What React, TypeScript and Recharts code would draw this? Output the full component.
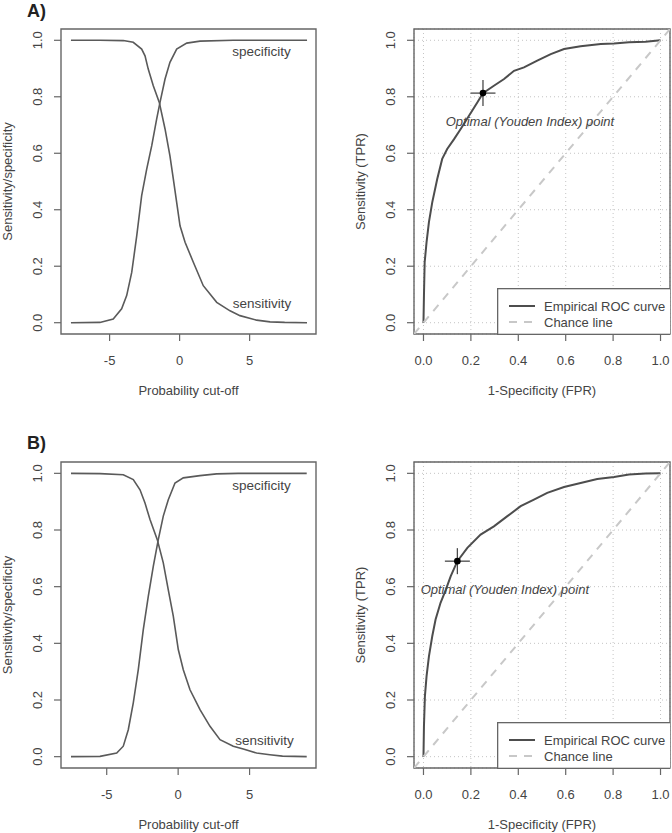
import React from 'react';
import {
  ComposedChart,
  Line,
  XAxis,
  YAxis,
  CartesianGrid,
  ReferenceArea,
  ReferenceDot,
  Scatter,
  Legend,
} from 'recharts';

const FONT = '"Liberation Sans", Arial, Helvetica, sans-serif';
const TEXT = '#444444';
const AXIS = '#666666';
const CURVE = '#5a5a5a';

// ---------- Panel A (left): sensitivity / specificity vs probability cut-off ----------
const sensA = [
  { x: -7.76, y: 1 }, { x: -5.69, y: 1 }, { x: -4.02, y: 0.999 }, { x: -3.31, y: 0.993 },
  { x: -2.71, y: 0.969 }, { x: -2.47, y: 0.945 }, { x: -2.24, y: 0.898 }, { x: -1.88, y: 0.839 },
  { x: -1.45, y: 0.78 }, { x: -1.04, y: 0.686 }, { x: -0.69, y: 0.591 }, { x: -0.45, y: 0.509 },
  { x: -0.21, y: 0.426 }, { x: 0.03, y: 0.343 }, { x: 0.39, y: 0.285 }, { x: 0.98, y: 0.214 },
  { x: 1.69, y: 0.131 }, { x: 2.65, y: 0.072 }, { x: 3.6, y: 0.042 }, { x: 4.31, y: 0.025 },
  { x: 5.5, y: 0.009 }, { x: 6.46, y: 0.003 }, { x: 7.5, y: 0.001 }, { x: 9.1, y: 0 },
];
const specA = [
  { x: -7.76, y: 0 }, { x: -5.69, y: 0.001 }, { x: -4.74, y: 0.013 }, { x: -4.14, y: 0.049 },
  { x: -3.78, y: 0.096 }, { x: -3.42, y: 0.178 }, { x: -3.06, y: 0.308 }, { x: -2.71, y: 0.45 },
  { x: -2.35, y: 0.544 }, { x: -1.99, y: 0.627 }, { x: -1.64, y: 0.721 }, { x: -1.4, y: 0.78 },
  { x: -1.04, y: 0.863 }, { x: -0.69, y: 0.922 }, { x: -0.21, y: 0.969 }, { x: 0.51, y: 0.99 },
  { x: 1.46, y: 0.997 }, { x: 3.84, y: 1 }, { x: 9.1, y: 1 },
];

// ---------- Panel B (left) ----------
const sensB = [
  { x: -7.5, y: 1 }, { x: -5.47, y: 0.999 }, { x: -3.84, y: 0.995 }, { x: -3.14, y: 0.978 },
  { x: -2.67, y: 0.942 }, { x: -2.32, y: 0.895 }, { x: -1.97, y: 0.837 }, { x: -1.46, y: 0.766 },
  { x: -1.04, y: 0.684 }, { x: -0.69, y: 0.589 }, { x: -0.34, y: 0.496 }, { x: 0.01, y: 0.378 },
  { x: 0.36, y: 0.307 }, { x: 0.83, y: 0.236 }, { x: 1.53, y: 0.166 }, { x: 2.23, y: 0.107 },
  { x: 2.93, y: 0.06 }, { x: 3.86, y: 0.037 }, { x: 4.56, y: 0.027 }, { x: 5.49, y: 0.013 },
  { x: 6.42, y: 0.007 }, { x: 7.3, y: 0.002 }, { x: 9.0, y: 0 },
];
const specB = [
  { x: -7.5, y: 0 }, { x: -5.47, y: 0.001 }, { x: -4.3, y: 0.013 }, { x: -3.84, y: 0.037 },
  { x: -3.49, y: 0.095 }, { x: -3.14, y: 0.19 }, { x: -2.79, y: 0.307 }, { x: -2.44, y: 0.448 },
  { x: -2.09, y: 0.566 }, { x: -1.74, y: 0.672 }, { x: -1.39, y: 0.766 }, { x: -1.04, y: 0.849 },
  { x: -0.69, y: 0.907 }, { x: -0.22, y: 0.966 }, { x: 0.36, y: 0.984 }, { x: 1.53, y: 0.992 },
  { x: 2.69, y: 0.998 }, { x: 4.2, y: 1 }, { x: 9.0, y: 1 },
];

// ---------- ROC curves ----------
const rocA = [
  { x: 0, y: 0 }, { x: 0.002, y: 0.096 }, { x: 0.005, y: 0.214 }, { x: 0.013, y: 0.285 },
  { x: 0.023, y: 0.356 }, { x: 0.037, y: 0.426 }, { x: 0.058, y: 0.509 }, { x: 0.079, y: 0.58 },
  { x: 0.1, y: 0.615 }, { x: 0.129, y: 0.65 }, { x: 0.157, y: 0.686 }, { x: 0.192, y: 0.733 },
  { x: 0.227, y: 0.78 }, { x: 0.251, y: 0.813 }, { x: 0.297, y: 0.839 }, { x: 0.34, y: 0.863 },
  { x: 0.382, y: 0.892 }, { x: 0.424, y: 0.904 }, { x: 0.48, y: 0.928 }, { x: 0.537, y: 0.951 },
  { x: 0.593, y: 0.969 }, { x: 0.663, y: 0.979 }, { x: 0.748, y: 0.987 }, { x: 0.804, y: 0.989 },
  { x: 0.867, y: 0.993 }, { x: 0.937, y: 0.995 }, { x: 1, y: 1 },
];
const rocB = [
  { x: 0, y: 0 }, { x: 0.002, y: 0.107 }, { x: 0.006, y: 0.213 }, { x: 0.013, y: 0.284 },
  { x: 0.023, y: 0.354 }, { x: 0.037, y: 0.425 }, { x: 0.051, y: 0.484 }, { x: 0.072, y: 0.543 },
  { x: 0.094, y: 0.589 }, { x: 0.115, y: 0.637 }, { x: 0.143, y: 0.69 }, { x: 0.185, y: 0.737 },
  { x: 0.241, y: 0.784 }, { x: 0.297, y: 0.813 }, { x: 0.354, y: 0.849 }, { x: 0.41, y: 0.884 },
  { x: 0.466, y: 0.907 }, { x: 0.522, y: 0.931 }, { x: 0.593, y: 0.952 }, { x: 0.663, y: 0.966 },
  { x: 0.733, y: 0.98 }, { x: 0.804, y: 0.987 }, { x: 0.867, y: 0.996 }, { x: 0.937, y: 0.999 },
  { x: 1, y: 1 },
];
const chanceLine = [{ x: -0.04, y: -0.04 }, { x: 1.04, y: 1.04 }];
const optimalA = [{ x: 0.251, y: 0.813 }];
const optimalB = [{ x: 0.143, y: 0.69 }];
const optimalTextA = { x: 0.094, y: 0.712 };
const optimalTextB = { x: -0.012, y: 0.589 };
const legendOrder = ['Empirical ROC curve', 'Chance line'];

// ---------- Axes ----------
const cutoffTicks = [-5, 0, 5];
const probTicks = [0, 0.2, 0.4, 0.6, 0.8, 1.0];
const rateTicks = [0, 0.2, 0.4, 0.6, 0.8, 1.0];
const yDomain: [number, number] = [-0.04, 1.04];
const cutoffDomainA: [number, number] = [-8.47, 9.74];
const cutoffDomainB: [number, number] = [-8.2, 9.65];
const rocDomain: [number, number] = [-0.04, 1.04];

const curveLabelsA = [
  { x: 5.85, y: 0.959, text: 'specificity' },
  { x: 5.89, y: 0.07, text: 'sensitivity' },
];
const curveLabelsB = [
  { x: 5.83, y: 0.957, text: 'specificity' },
  { x: 6.04, y: 0.056, text: 'sensitivity' },
];

const TICK_SIZE = 7;
const TICK_MARGIN = 5;

const makeXTick = (fmt: (v: number) => string) => (props: any) => {
  const { x, y, payload } = props;
  return (
    <text x={x} y={y + 18.7} textAnchor="middle" fill={TEXT} fontSize={13} fontFamily={FONT}>
      {fmt(payload.value)}
    </text>
  );
};

const makeYTick = (fmt: (v: number) => string) => (props: any) => {
  const { x, y, payload } = props;
  const bx = x - 7.3;
  return (
    <text
      x={bx}
      y={y}
      transform={`rotate(-90 ${bx} ${y})`}
      textAnchor="middle"
      fill={TEXT}
      fontSize={13}
      fontFamily={FONT}
    >
      {fmt(payload.value)}
    </text>
  );
};

const intFmt = (v: number) => String(v);
const decFmt = (v: number) => v.toFixed(1);

const xTitle = (text: string) => (props: any) => {
  const vb = props.viewBox || {};
  return (
    <text
      x={vb.x + vb.width / 2}
      y={vb.y + 60.5}
      textAnchor="middle"
      fill={TEXT}
      fontSize={13}
      fontFamily={FONT}
    >
      {text}
    </text>
  );
};

const yTitle = (text: string) => (props: any) => {
  const vb = props.viewBox || {};
  const bx = vb.x + vb.width - 48.7;
  const cy = vb.y + vb.height / 2;
  return (
    <text
      x={bx}
      y={cy}
      transform={`rotate(-90 ${bx} ${cy})`}
      textAnchor="middle"
      fill={TEXT}
      fontSize={13}
      fontFamily={FONT}
    >
      {text}
    </text>
  );
};

const centerText = (text: string) => (props: any) => {
  const vb = props.viewBox || {};
  const cx = vb.x + (vb.width || 0) / 2;
  const cy = vb.y + (vb.height || 0) / 2;
  return (
    <text x={cx} y={cy + 4.6} textAnchor="middle" fill={TEXT} fontSize={13.5} fontFamily={FONT}>
      {text}
    </text>
  );
};

const startItalicText = (text: string) => (props: any) => {
  const vb = props.viewBox || {};
  const cx = vb.x + (vb.width || 0) / 2;
  const cy = vb.y + (vb.height || 0) / 2;
  return (
    <text
      x={cx}
      y={cy + 4.6}
      textAnchor="start"
      fill={TEXT}
      fontSize={13}
      fontStyle="italic"
      fontFamily={FONT}
    >
      {text}
    </text>
  );
};

const PlusMarker = (props: any) => {
  const { cx, cy } = props;
  return (
    <g>
      <line x1={cx - 12.5} x2={cx + 12.5} y1={cy} y2={cy} stroke="#4a4a4a" strokeWidth={1.3} />
      <line x1={cx} x2={cx} y1={cy - 13} y2={cy + 13} stroke="#4a4a4a" strokeWidth={1.3} />
      <circle cx={cx} cy={cy} r={3.3} fill="#000" />
    </g>
  );
};

const LegendBox = (props: any) => {
  const items = (props.payload || [])
    .filter((e: any) => e.type !== 'none' && legendOrder.indexOf(e.value) >= 0)
    .sort((a: any, b: any) => legendOrder.indexOf(a.value) - legendOrder.indexOf(b.value));
  return (
    <svg width={173} height={47} style={{ display: 'block' }}>
      <rect x={0.65} y={0.65} width={173} height={45.7} fill="#fff" stroke={AXIS} strokeWidth={1.3} />
      {items.map((e: any, i: number) => {
        const yy = 18 + i * 16;
        const dash = e.payload && e.payload.strokeDasharray;
        return (
          <g key={i}>
            <line
              x1={12}
              x2={38}
              y1={yy}
              y2={yy}
              stroke={e.color}
              strokeWidth={2}
              strokeDasharray={dash}
            />
            <text x={47} y={yy + 4.6} fill={TEXT} fontSize={13} fontFamily={FONT}>
              {e.value}
            </text>
          </g>
        );
      })}
    </svg>
  );
};

type CutoffProps = {
  top: number;
  height: number;
  plotTop: number;
  plotBottom: number;
  sens: { x: number; y: number }[];
  spec: { x: number; y: number }[];
  domain: [number, number];
  labels: { x: number; y: number; text: string }[];
};

const CutoffPanel = ({ top, height, plotTop, plotBottom, sens, spec, domain, labels }: CutoffProps) => (
  <div style={{ position: 'absolute', left: 0, top }}>
    <ComposedChart
      width={336}
      height={height}
      margin={{ top: plotTop, right: 20, bottom: height - plotBottom - 30, left: 21 }}
    >
      <XAxis
        dataKey="x"
        type="number"
        domain={domain}
        allowDataOverflow
        ticks={cutoffTicks}
        height={30}
        axisLine={false}
        tickLine={{ stroke: AXIS, strokeWidth: 1.2 }}
        tickSize={TICK_SIZE}
        tickMargin={TICK_MARGIN}
        tick={makeXTick(intFmt)}
        interval={0}
        label={xTitle('Probability cut-off')}
      />
      <YAxis
        dataKey="y"
        type="number"
        domain={yDomain}
        allowDataOverflow
        ticks={probTicks}
        width={40}
        axisLine={false}
        tickLine={{ stroke: AXIS, strokeWidth: 1.2 }}
        tickSize={TICK_SIZE}
        tickMargin={TICK_MARGIN}
        tick={makeYTick(decFmt)}
        interval={0}
        label={yTitle('Sensitivity/specificity')}
      />
      <Line data={sens} dataKey="y" name="sensitivity" type="linear" dot={false} stroke={CURVE} strokeWidth={1.6} isAnimationActive={false} />
      <Line data={spec} dataKey="y" name="specificity" type="linear" dot={false} stroke={CURVE} strokeWidth={1.6} isAnimationActive={false} />
      {labels.map((l) => (
        <ReferenceDot key={l.text} x={l.x} y={l.y} r={0} fill="none" stroke="none" label={centerText(l.text)} />
      ))}
      <ReferenceArea
        x1={domain[0]}
        x2={domain[1]}
        y1={yDomain[0]}
        y2={yDomain[1]}
        fill="none"
        fillOpacity={0}
        stroke={AXIS}
        strokeWidth={1.4}
        ifOverflow="visible"
      />
    </ComposedChart>
  </div>
);

type RocProps = {
  top: number;
  height: number;
  plotTop: number;
  plotBottom: number;
  roc: { x: number; y: number }[];
  optimal: { x: number; y: number }[];
  optimalText: { x: number; y: number };
};

const RocPanel = ({ top, height, plotTop, plotBottom, roc, optimal, optimalText }: RocProps) => (
  <div style={{ position: 'absolute', left: 336, top }}>
    <ComposedChart
      width={336}
      height={height}
      margin={{ top: plotTop, right: 2, bottom: height - plotBottom - 30, left: 38 }}
    >
      <CartesianGrid stroke="#c4c4c4" strokeDasharray="1 3" strokeWidth={1} />
      <XAxis
        dataKey="x"
        type="number"
        domain={rocDomain}
        allowDataOverflow
        ticks={rateTicks}
        height={30}
        axisLine={false}
        tickLine={{ stroke: AXIS, strokeWidth: 1.2 }}
        tickSize={TICK_SIZE}
        tickMargin={TICK_MARGIN}
        tick={makeXTick(decFmt)}
        interval={0}
        label={xTitle('1-Specificity (FPR)')}
      />
      <YAxis
        dataKey="y"
        type="number"
        domain={yDomain}
        allowDataOverflow
        ticks={rateTicks}
        width={40}
        axisLine={false}
        tickLine={{ stroke: AXIS, strokeWidth: 1.2 }}
        tickSize={TICK_SIZE}
        tickMargin={TICK_MARGIN}
        tick={makeYTick(decFmt)}
        interval={0}
        label={yTitle('Sensitivity (TPR)')}
      />
      <Line
        data={roc}
        dataKey="y"
        name="Empirical ROC curve"
        type="linear"
        dot={false}
        stroke="#4d4d4d"
        strokeWidth={2}
        isAnimationActive={false}
      />
      <Line
        data={chanceLine}
        dataKey="y"
        name="Chance line"
        type="linear"
        dot={false}
        stroke="#c8c8c8"
        strokeWidth={2}
        strokeDasharray="8 7"
        isAnimationActive={false}
      />
      <Scatter
        data={optimal}
        dataKey="y"
        shape={PlusMarker}
        legendType="none"
        isAnimationActive={false}
      />
      <ReferenceDot
        x={optimalText.x}
        y={optimalText.y}
        r={0}
        fill="none"
        stroke="none"
        label={startItalicText('Optimal (Youden Index) point')}
      />
      <ReferenceArea
        x1={rocDomain[0]}
        x2={rocDomain[1]}
        y1={yDomain[0]}
        y2={yDomain[1]}
        fill="none"
        fillOpacity={0}
        stroke={AXIS}
        strokeWidth={1.4}
        ifOverflow="visible"
      />
      <Legend
        layout="vertical"
        align="center"
        verticalAlign="middle"
        wrapperStyle={{ left: 161, top: plotBottom - 46.5, width: 173, height: 47 }}
        content={LegendBox}
      />
    </ComposedChart>
  </div>
);

const panelLetter = (text: string, top: number) => (
  <div
    style={{
      position: 'absolute',
      left: 27,
      top,
      fontFamily: FONT,
      fontWeight: 'bold',
      fontSize: 18,
      lineHeight: '18px',
      color: '#222',
    }}
  >
    {text}
  </div>
);

export default function App() {
  return (
    <div
      style={{
        position: 'absolute',
        left: 0,
        top: 0,
        width: 672,
        height: 833,
        background: '#fff',
        overflow: 'hidden',
      }}
    >
      {panelLetter('A)', 1.5)}
      {panelLetter('B)', 433.5)}
      <CutoffPanel
        top={0}
        height={416}
        plotTop={29}
        plotBottom={334}
        sens={sensA}
        spec={specA}
        domain={cutoffDomainA}
        labels={curveLabelsA}
      />
      <RocPanel top={0} height={416} plotTop={29} plotBottom={334} roc={rocA} optimal={optimalA} optimalText={optimalTextA} />
      <CutoffPanel
        top={416}
        height={417}
        plotTop={46}
        plotBottom={352}
        sens={sensB}
        spec={specB}
        domain={cutoffDomainB}
        labels={curveLabelsB}
      />
      <RocPanel top={416} height={417} plotTop={46} plotBottom={352} roc={rocB} optimal={optimalB} optimalText={optimalTextB} />
    </div>
  );
}
